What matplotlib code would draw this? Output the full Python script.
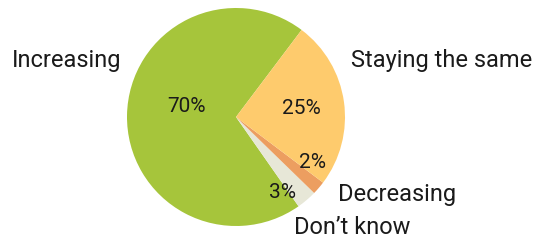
import matplotlib
matplotlib.use('Agg')
import matplotlib.pyplot as plt

labels = ['Increasing', "Don\u2019t know", 'Decreasing', 'Staying the same']
values = [70, 3, 2, 25]
colors = ['#a6c53b', '#e7e7d7', '#ec9e60', '#fecb6d']

W, H = 535, 242
fig = plt.figure(figsize=(W / 100, H / 100), dpi=100)
ax = fig.add_axes([0, 0, 1, 1])

cx, cy, r = 236, H - 117, 109
ax.pie(values, colors=colors, startangle=53, center=(cx, cy), radius=r,
       wedgeprops=dict(linewidth=0), frame=True)
ax.set_xlim(0, W)
ax.set_ylim(0, H)
ax.set_aspect('equal')
ax.axis('off')

font = ['Roboto', 'DejaVu Sans']
pct_pos = {'Increasing': (187, 107), "Don\u2019t know": (283, 192),
           'Decreasing': (312, 162), 'Staying the same': (301, 109)}
for lab, v in zip(labels, values):
    x, y = pct_pos[lab]
    ax.text(x, H - y, f'{v}%', ha='center', va='center', fontsize=15,
            family=font, color='#1a1a1a')

name_pos = {'Increasing': (67, 61, 'center'),
            'Staying the same': (442, 61, 'center'),
            'Decreasing': (338, 194, 'left'),
            "Don\u2019t know": (294, 227, 'left')}
for lab in labels:
    x, y, ha = name_pos[lab]
    ax.text(x, H - y, lab, ha=ha, va='center', fontsize=17, family=font,
            color='#1a1a1a')

fig.savefig('out.png', dpi=100)
